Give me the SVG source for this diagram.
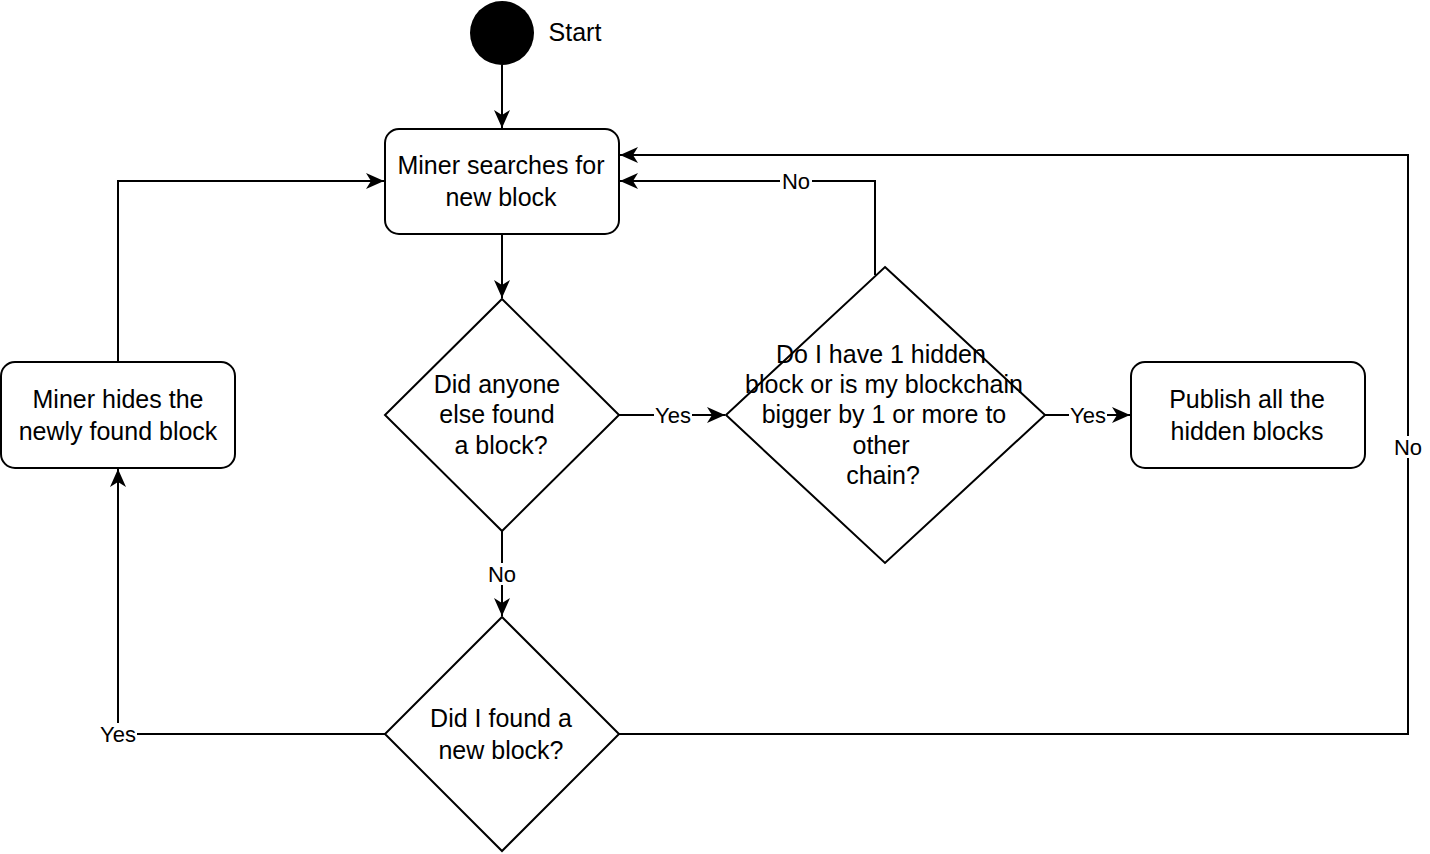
<svg xmlns="http://www.w3.org/2000/svg" width="1430" height="854" viewBox="0 0 1430 854">
<style>
.n{fill:#fff;stroke:#000;stroke-width:2}
.t{font-family:"Liberation Sans",Arial,sans-serif;font-size:25px;fill:#000;text-anchor:middle}
.c{fill:none;stroke:#000;stroke-width:2}
.l{font-family:"Liberation Sans",Arial,sans-serif;font-size:22px;fill:#000;text-anchor:middle;dominant-baseline:central}
.lb{fill:#fff}
</style>
<defs>
<marker id="a" viewBox="0 0 18 16" refX="18" refY="8" markerWidth="18" markerHeight="16" markerUnits="userSpaceOnUse" orient="auto">
<path d="M0,0 L18,8 L0,16 L5,8 Z" fill="#000"/>
</marker>
</defs>
<rect width="1430" height="854" fill="#fff"/>
<g id="connectors">
<path class="c" d="M502,65 V128" marker-end="url(#a)"/>
<path class="c" d="M502,234 V298" marker-end="url(#a)"/>
<path class="c" d="M619,415 H725" marker-end="url(#a)"/>
<path class="c" d="M1045,415 H1130" marker-end="url(#a)"/>
<path class="c" d="M502,531 V616" marker-end="url(#a)"/>
<path class="c" d="M385,734 H118 V469" marker-end="url(#a)"/>
<path class="c" d="M118,362 V181 H384" marker-end="url(#a)"/>
<path class="c" d="M875,275 V181 H620" marker-end="url(#a)"/>
<path class="c" d="M619,734 H1408 V155 H620" marker-end="url(#a)"/>
<rect class="lb" x="654" y="404" width="38" height="22"/>
<text class="l" x="673" y="415">Yes</text>
<rect class="lb" x="1069" y="404" width="38" height="22"/>
<text class="l" x="1088" y="415">Yes</text>
<rect class="lb" x="486" y="563" width="32" height="22"/>
<text class="l" x="502" y="574">No</text>
<rect class="lb" x="99" y="723" width="38" height="22"/>
<text class="l" x="118" y="734">Yes</text>
<rect class="lb" x="780" y="170" width="32" height="22"/>
<text class="l" x="796" y="181">No</text>
<rect class="lb" x="1392" y="436" width="32" height="22"/>
<text class="l" x="1408" y="447">No</text>
</g>
<g id="start">
<circle cx="502" cy="33" r="32" fill="#000"/>
<text class="t" x="575" y="41">Start</text>
</g>
<g id="search">
<rect class="n" x="385" y="129" width="234" height="105" rx="14"/>
<text class="t" x="501" y="174">Miner searches for</text>
<text class="t" x="501" y="206">new block</text>
</g>
<g id="q1">
<path class="n" d="M502,299 L619,415 L502,531 L385,415 Z"/>
<text class="t" x="497" y="393">Did anyone</text>
<text class="t" x="497" y="423">else found</text>
<text class="t" x="501" y="454">a block?</text>
</g>
<g id="q2">
<path class="n" d="M885,267 L1045,415 L885,563 L726,415 Z"/>
<text class="t" x="881" y="363">Do I have 1 hidden</text>
<text class="t" x="884" y="393">block or is my blockchain</text>
<text class="t" x="884" y="423">bigger by 1 or more to</text>
<text class="t" x="881" y="454">other</text>
<text class="t" x="883" y="484">chain?</text>
</g>
<g id="publish">
<rect class="n" x="1131" y="362" width="234" height="106" rx="14"/>
<text class="t" x="1247" y="408">Publish all the</text>
<text class="t" x="1247" y="440">hidden blocks</text>
</g>
<g id="hide">
<rect class="n" x="1" y="362" width="234" height="106" rx="14"/>
<text class="t" x="118" y="408">Miner hides the</text>
<text class="t" x="118" y="440">newly found block</text>
</g>
<g id="q3">
<path class="n" d="M502,617 L619,734 L502,851 L385,734 Z"/>
<text class="t" x="501" y="727">Did I found a</text>
<text class="t" x="501" y="759">new block?</text>
</g>
</svg>
